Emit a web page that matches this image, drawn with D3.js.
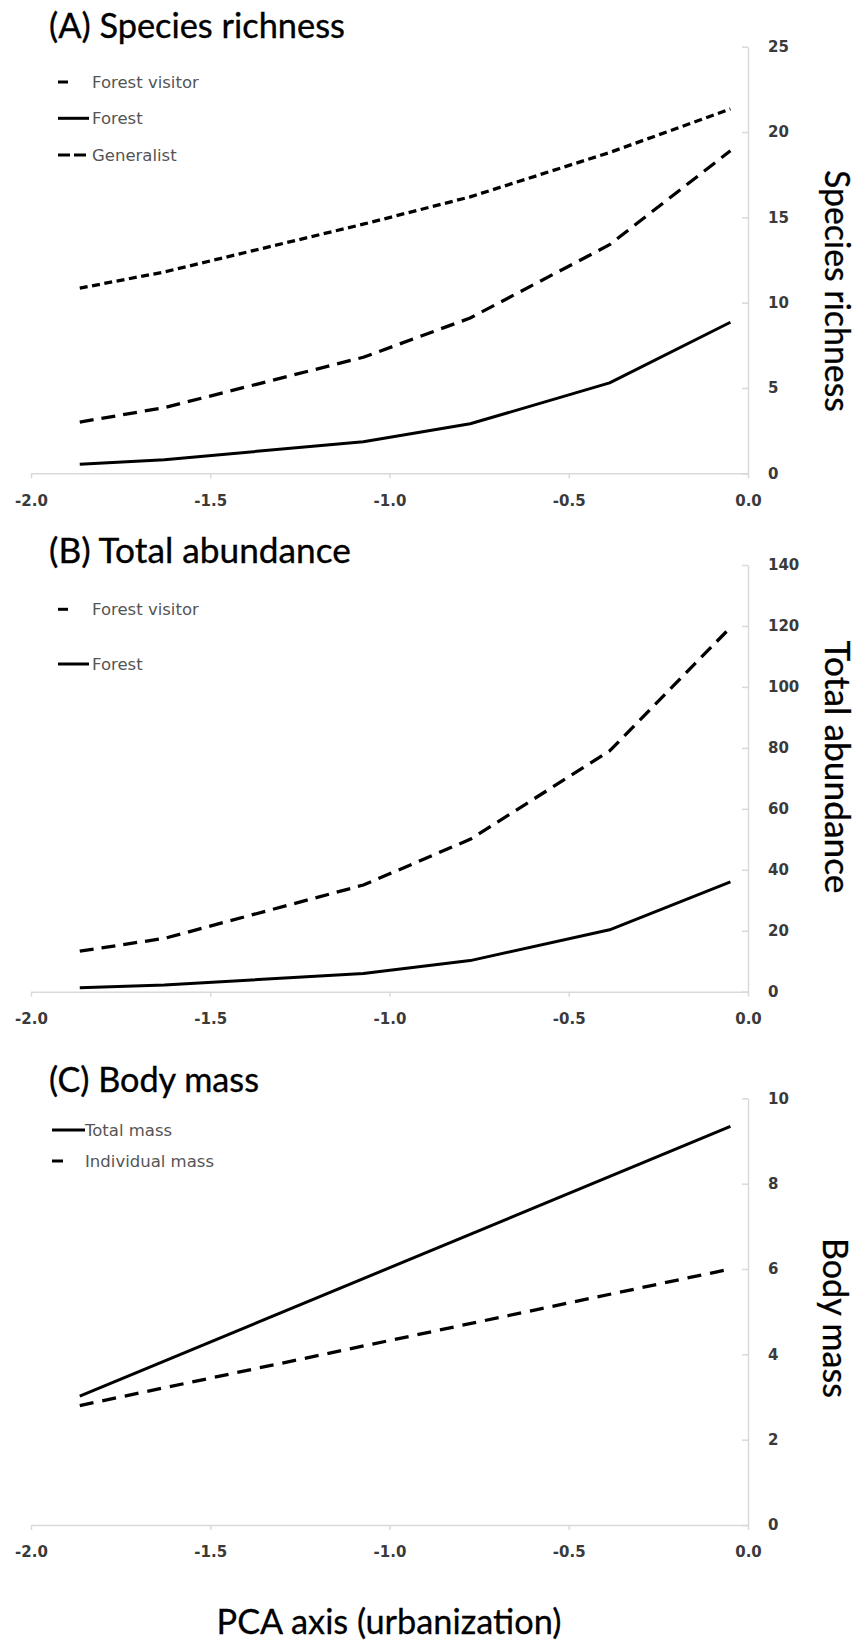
<!DOCTYPE html>
<html>
<head>
<meta charset="utf-8">
<script src="https://cdn.jsdelivr.net/npm/d3@7"></script>
<style>
  html, body { margin: 0; padding: 0; background: #ffffff; }
  svg { display: block; }
</style>
</head>
<body>
<svg id="chart" width="859" height="1640"></svg>
<script>
// ---------------- DATA ----------------
const xValues = [-1.864, -1.628, -1.073, -0.775, -0.386, -0.049];

const richnessForestVisitor = [3.0, 3.85, 6.8, 9.1, 13.4, 18.9];
const richnessForest        = [0.53, 0.8, 1.85, 2.9, 5.3, 8.85];
const richnessGeneralist    = [10.85, 11.8, 14.6, 16.2, 18.8, 21.35];

const abundanceForestVisitor = [13.3, 17.5, 35, 50, 79, 119.5];
const abundanceForest        = [1.3, 2.2, 6.0, 10.2, 20.3, 36];

const massX          = [-1.864, -0.049];
const massTotal      = [3.02, 9.34];
const massIndividual = [2.8, 6.0];

const xTickValues = [-2, -1.5, -1, -0.5, 0];
const xTickLabels = ["-2.0", "-1.5", "-1.0", "-0.5", "0.0"];

const richnessTicks  = [0, 5, 10, 15, 20, 25];
const abundanceTicks = [0, 20, 40, 60, 80, 100, 120, 140];
const massTicks      = [0, 2, 4, 6, 8, 10];

const titles     = ["(A) Species richness", "(B) Total abundance", "(C) Body mass"];
const axisTitles = ["Species richness", "Total abundance", "Body mass"];
const xAxisTitle = "PCA axis (urbanization)";

// ---------------- STYLES / LAYOUT ----------------
const DASH_LONG = "14,8";
const DASH_SHORT = "8,4.5";
const DASH_IND = "14,9";

const svg = d3.select("#chart");
svg.append("rect").attr("width", 859).attr("height", 1640).attr("fill", "#fff");

const x = d3.scaleLinear().domain([-2, 0]).range([31, 748]);

const panels = [
  {
    title: titles[0], titleBaseline: 38, titleWidth: 296,
    top: 46.7, bottom: 473.3, ticks: richnessTicks,
    axisTitle: axisTitles[0], axisTitleY: 291, axisTitleX: 838, axisTitleW: 242,
    series: [
      { name: "Forest visitor", xs: xValues, ys: richnessForestVisitor, dash: DASH_LONG },
      { name: "Forest",         xs: xValues, ys: richnessForest,        dash: null },
      { name: "Generalist",     xs: xValues, ys: richnessGeneralist,    dash: DASH_SHORT }
    ],
    legend: { tx: 92, rows: [82, 118.3, 155],
              sym: [{x1: 58, x2: 68, dash: null}, {x1: 58, x2: 89, dash: null}, {x1: 58, x2: 87, dash: "12,4"}] }
  },
  {
    title: titles[1], titleBaseline: 563, titleWidth: 302,
    top: 565, bottom: 991.7, ticks: abundanceTicks,
    axisTitle: axisTitles[1], axisTitleY: 767, axisTitleX: 838, axisTitleW: 253,
    series: [
      { name: "Forest visitor", xs: xValues, ys: abundanceForestVisitor, dash: DASH_LONG },
      { name: "Forest",         xs: xValues, ys: abundanceForest,        dash: null }
    ],
    legend: { tx: 92, rows: [609.3, 664],
              sym: [{x1: 58, x2: 68, dash: null}, {x1: 58, x2: 89, dash: null}] }
  },
  {
    title: titles[2], titleBaseline: 1092, titleWidth: 210,
    top: 1098.3, bottom: 1525, ticks: massTicks,
    axisTitle: axisTitles[2], axisTitleY: 1318, axisTitleX: 836, axisTitleW: 160,
    series: [
      { name: "Total mass",      xs: massX, ys: massTotal,      dash: null },
      { name: "Individual mass", xs: massX, ys: massIndividual, dash: DASH_IND }
    ],
    legend: { tx: 85, rows: [1130, 1161],
              sym: [{x1: 52, x2: 85, dash: null}, {x1: 52, x2: 63, dash: null}] }
  }
];

function fitWidth(sel, target) {
  const len = sel.node().getComputedTextLength();
  const fs = parseFloat(sel.attr("font-size"));
  sel.attr("font-size", (fs * target / len).toFixed(2));
}

const TITLE_FONT = "Lato, 'Open Sans', 'Noto Sans', sans-serif";
const TICK_FONT = "'DejaVu Sans', Verdana, sans-serif";

panels.forEach(p => {
  const y = d3.scaleLinear().domain([0, d3.max(p.ticks)]).range([p.bottom, p.top]);
  const g = svg.append("g");

  // Title
  const t = g.append("text")
    .attr("x", 49).attr("y", p.titleBaseline)
    .attr("font-family", TITLE_FONT).attr("font-size", 30)
    .attr("fill", "#000").attr("stroke", "#000").attr("stroke-width", 0.35)
    .text(p.title);
  fitWidth(t, p.titleWidth);

  // X axis
  const xAxis = d3.axisBottom(x)
    .tickValues(xTickValues)
    .tickFormat((d, i) => xTickLabels[i])
    .tickSizeInner(5).tickSizeOuter(0);
  const gx = g.append("g").attr("transform", `translate(0,${p.bottom})`).call(xAxis);
  gx.select(".domain").attr("stroke", "#d9d9d9").attr("stroke-width", 1.5);
  gx.selectAll(".tick line").attr("stroke", "#d9d9d9").attr("stroke-width", 1.5);
  gx.selectAll(".tick text")
    .attr("y", 27).attr("dy", "0.35em")
    .attr("font-family", TICK_FONT).attr("font-weight", "bold")
    .attr("font-size", 15).attr("fill", "#3a3a3a");

  // Y axis (on right, ticks pointing left, labels left-aligned to the right)
  const yAxis = d3.axisRight(y)
    .tickValues(p.ticks)
    .tickFormat(d3.format("d"))
    .tickSizeInner(-6).tickSizeOuter(0).tickPadding(20);
  const gy = g.append("g").attr("transform", `translate(${x(0)},0)`).call(yAxis);
  gy.select(".domain").attr("stroke", "#d9d9d9").attr("stroke-width", 1.5);
  gy.selectAll(".tick line").attr("stroke", "#d9d9d9").attr("stroke-width", 1.5);
  gy.selectAll(".tick text")
    .attr("font-family", TICK_FONT).attr("font-weight", "bold")
    .attr("font-size", 15).attr("fill", "#3a3a3a");

  // Y axis title (rotated, reading top to bottom)
  const at = g.append("text")
    .attr("transform", `translate(${p.axisTitleX},${p.axisTitleY}) rotate(90)`)
    .attr("text-anchor", "middle").attr("dominant-baseline", "central")
    .attr("font-family", TITLE_FONT).attr("font-size", 30)
    .attr("fill", "#000").attr("stroke", "#000").attr("stroke-width", 0.3)
    .text(p.axisTitle);
  fitWidth(at, p.axisTitleW);

  // Lines
  const line = d3.line().x(d => x(d[0])).y(d => y(d[1]));
  p.series.forEach(s => {
    const pts = s.xs.map((xv, i) => [xv, s.ys[i]]);
    g.append("path")
      .datum(pts)
      .attr("d", line)
      .attr("fill", "none")
      .attr("stroke", "#000")
      .attr("stroke-width", s.dash ? 3.3 : 3)
      .attr("stroke-linejoin", "round")
      .attr("stroke-dasharray", s.dash);
  });

  // Legend
  p.series.forEach((s, i) => {
    const ry = p.legend.rows[i];
    const sym = p.legend.sym[i];
    g.append("line")
      .attr("x1", sym.x1).attr("x2", sym.x2)
      .attr("y1", ry).attr("y2", ry)
      .attr("stroke", "#000").attr("stroke-width", 3)
      .attr("stroke-dasharray", sym.dash);
    g.append("text")
      .attr("x", p.legend.tx).attr("y", ry)
      .attr("dominant-baseline", "central")
      .attr("font-family", TICK_FONT).attr("font-size", 16.5)
      .attr("fill", "#555").text(s.name);
  });
});

// Bottom x-axis title
const bt = svg.append("text")
  .attr("x", 389).attr("y", 1634)
  .attr("text-anchor", "middle")
  .attr("font-family", TITLE_FONT).attr("font-size", 30)
  .attr("fill", "#000").attr("stroke", "#000").attr("stroke-width", 0.3)
  .text(xAxisTitle);
fitWidth(bt, 345);
</script>
</body>
</html>
